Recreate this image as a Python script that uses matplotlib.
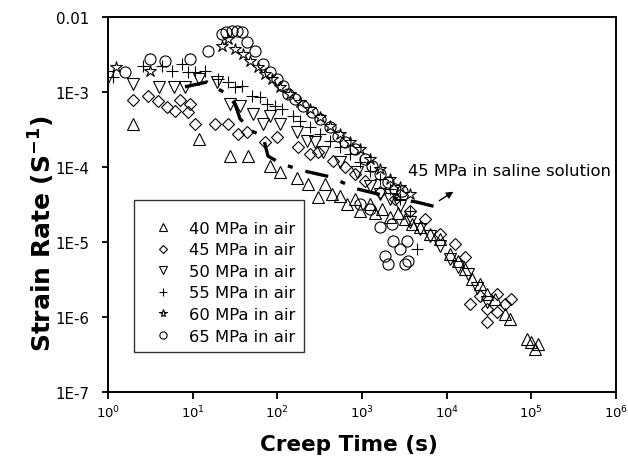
import math
import matplotlib
matplotlib.use("Agg")
import matplotlib.pyplot as plt
from matplotlib.ticker import FixedLocator, FuncFormatter, NullLocator

plt.rcParams['font.family'] = ['DejaVu Sans']
plt.rcParams['mathtext.default'] = 'regular'

# 40 MPa in air
t40 = [1.97, 11.9, 27.5, 44.8, 81.5, 107, 170, 230, 300, 365, 440, 550, 660, 820, 940,
       1240, 1420, 1720, 2140, 2660, 3220, 3890, 4830, 6340, 8300, 10900, 13600, 16500,
       19900, 24600, 29800, 36700, 48300, 55400, 88500, 99000, 110000, 120000]
r40 = [3.7e-4, 2.36e-4, 1.4e-4, 1.4e-4, 1.03e-4, 8.6e-5, 7.1e-5, 5.9e-5, 4.0e-5, 5.9e-5,
       4.4e-5, 4.1e-5, 3.2e-5, 3.7e-5, 2.6e-5, 3.2e-5, 2.4e-5, 2.75e-5, 2.15e-5, 2.4e-5,
       2.0e-5, 1.74e-5, 1.58e-5, 1.28e-5, 1.1e-5, 6.9e-6, 5.6e-6, 4.4e-6, 3.2e-6, 2.75e-6,
       2.0e-6, 1.74e-6, 1.1e-6, 9.4e-7, 5.1e-7, 4.6e-7, 3.7e-7, 4.4e-7]

# 45 MPa in air
t45 = [1.97, 2.96, 3.9, 4.97, 6.2, 7.1, 9.3, 8.8, 10.6, 18.3, 26, 34, 43.6, 71, 99, 175,
       243, 300, 450, 630, 820, 1080, 1630, 2450, 3660, 5600, 8300, 12500, 16500, 18800,
       24600, 29800, 39000, 39000, 29800, 48300, 58000]
r45 = [7.8e-4, 8.85e-4, 7.6e-4, 6.3e-4, 5.6e-4, 7.8e-4, 6.9e-4, 5.4e-4, 3.74e-4, 3.74e-4,
       3.74e-4, 2.75e-4, 2.93e-4, 2.15e-4, 2.5e-4, 1.85e-4, 1.49e-4, 1.58e-4, 1.2e-4, 1.0e-4,
       8.1e-5, 6.5e-5, 4.6e-5, 3.7e-5, 2.6e-5, 2.0e-5, 1.28e-5, 9.4e-6, 6.3e-6, 1.49e-6,
       1.9e-6, 1.28e-6, 2.0e-6, 1.17e-6, 8.6e-7, 1.49e-6, 1.74e-6]

# 50 MPa in air
t50 = [1.0, 1.97, 4.0, 6.0, 8.1, 11.9, 19.4, 27.5, 36, 51.5, 67.6, 81.5, 107, 170, 224,
       278, 345, 550, 870, 1240, 1630, 2140, 2800, 3660, 4830, 6340, 8300, 10900, 13600,
       17800, 22600, 29800]
r50 = [1.58e-3, 1.28e-3, 1.17e-3, 1.17e-3, 1.17e-3, 1.49e-3, 1.36e-3, 6.9e-4, 6.5e-4,
       5.1e-4, 3.74e-4, 4.8e-4, 3.74e-4, 2.93e-4, 2.22e-4, 2.15e-4, 1.58e-4, 1.17e-4,
       8.6e-5, 5.6e-5, 4.4e-5, 3.7e-5, 3.0e-5, 1.85e-5, 1.49e-5, 1.2e-5, 8.9e-6, 5.9e-6,
       4.6e-6, 3.7e-6, 2.4e-6, 1.58e-6]

# 55 MPa in air
t55 = [1.15, 2.6, 4.3, 5.7, 7.5, 8.8, 10.6, 14, 19.9, 26, 31.6, 38, 50, 62, 75, 93, 113,
       153, 184, 243, 318, 415, 550, 720, 940, 1240, 1630, 2140, 2800, 3660, 4450]
r55 = [1.58e-3, 2.22e-3, 2.22e-3, 1.9e-3, 2.36e-3, 1.85e-3, 1.85e-3, 1.9e-3, 1.49e-3,
       1.36e-3, 1.17e-3, 1.2e-3, 8.85e-4, 8.6e-4, 6.9e-4, 6.5e-4, 5.9e-4, 4.8e-4, 4.1e-4,
       3.4e-4, 2.75e-4, 2.22e-4, 1.85e-4, 1.49e-4, 1.17e-4, 8.85e-5, 6.9e-5, 5.1e-5,
       3.7e-5, 2.6e-5, 8.1e-6]

# 60 MPa in air
t60 = [1.24, 3.13, 22, 26, 31.6, 39, 47.5, 59, 71, 86, 107, 140, 184, 243, 318, 415, 550,
       720, 940, 1240, 1630, 2140, 2800, 3660]
r60 = [2.15e-3, 1.9e-3, 4.1e-3, 5.1e-3, 3.7e-3, 3.2e-3, 2.6e-3, 2.15e-3, 1.74e-3, 1.49e-3,
       1.17e-3, 9.4e-4, 7.4e-4, 5.9e-4, 4.6e-4, 3.5e-4, 2.75e-4, 2.15e-4, 1.74e-4, 1.28e-4,
       9.4e-5, 6.9e-5, 5.4e-5, 4.4e-5]

# 65 MPa in air
t65 = [1.59, 3.13, 4.7, 9.3, 15, 22, 25, 29, 33, 38, 44, 54, 68, 81.5, 99, 116, 133, 161,
       200, 255, 318, 415, 520, 630, 820, 1080, 1300, 1630, 2000, 2450, 2950, 1630, 2260,
       2340, 3380, 2800, 1870, 2000, 3220, 3450, 1240, 940]
r65 = [1.85e-3, 2.75e-3, 2.6e-3, 2.75e-3, 3.5e-3, 5.9e-3, 6.3e-3, 6.5e-3, 6.5e-3, 6.3e-3,
       4.6e-3, 3.5e-3, 2.36e-3, 1.85e-3, 1.49e-3, 1.2e-3, 9.4e-4, 8.1e-4, 6.5e-4, 5.4e-4,
       4.4e-4, 3.4e-4, 2.6e-4, 2.15e-4, 1.74e-4, 1.28e-4, 1.03e-4, 8.1e-5, 6.3e-5, 5.1e-5,
       4.8e-5, 1.58e-5, 1.74e-5, 1.03e-5, 1.03e-5, 8.1e-6, 6.5e-6, 5.1e-6, 5.1e-6, 5.6e-6,
       2.75e-5, 3.2e-5]

# 45 MPa in saline solution (dash-dot curve)
t_saline = [8.1, 14.8, 17.4, 25.4, 31.6, 36.2, 50, 67.6, 77.4, 107, 185, 418, 871, 2800,
            4450, 7870]
r_saline = [1.17e-3, 1.36e-3, 1.2e-3, 9.4e-4, 6.9e-4, 4.4e-4, 3.0e-4, 2.6e-4, 1.4e-4,
            1.13e-4, 9.1e-5, 7.4e-5, 5.1e-5, 3.7e-5, 3.4e-5, 2.9e-5]

series = [
    (t40, r40, '^', '40 MPa in air'),
    (t45, r45, 'D', '45 MPa in air'),
    (t50, r50, 'v', '50 MPa in air'),
    (t55, r55, '+', '55 MPa in air'),
    (t60, r60, '*', '60 MPa in air'),
    (t65, r65, 'o', '65 MPa in air'),
]

fig = plt.figure(figsize=(6.28, 4.60), dpi=100)
ax = fig.add_axes([0.172, 0.1457, 0.809, 0.8152])

for t, r, m, lab in series:
    ms = 8
    if m == 'D':
        ms = 6.5
    elif m == '*':
        ms = 9
    ax.plot(t, r, linestyle='none', marker=m, markersize=ms, markerfacecolor='none',
            markeredgecolor='black', markeredgewidth=0.8, color='black', label=lab)

ax.plot(t_saline, r_saline, color='black', linewidth=2.4,
        linestyle=(0, (7, 4, 1.5, 4)), solid_capstyle='butt')

ax.set_xscale('log')
ax.set_yscale('log')
ax.set_xlim(1, 1e6)
ax.set_ylim(1e-7, 1e-2)

ax.xaxis.set_major_locator(FixedLocator([10.0 ** k for k in range(0, 7)]))
ax.xaxis.set_minor_locator(NullLocator())
ax.yaxis.set_major_locator(FixedLocator([10.0 ** k for k in range(-7, -1)]))
ax.yaxis.set_minor_locator(NullLocator())


def xfmt(v, pos):
    return r'$10^{%d}$' % round(math.log10(v))


def yfmt(v, pos):
    e = round(math.log10(v))
    if e == -2:
        return '0.01'
    return '1E%d' % e


ax.xaxis.set_major_formatter(FuncFormatter(xfmt))
ax.yaxis.set_major_formatter(FuncFormatter(yfmt))
ax.tick_params(axis='x', direction='out', length=5, width=1.3, pad=3.5, labelsize=9.5)
ax.tick_params(axis='y', direction='out', length=4, width=1.3, pad=9.5, labelsize=10.8)
for s in ax.spines.values():
    s.set_linewidth(1.4)

ax.set_xlabel('Creep Time (s)', fontsize=15.5, fontweight='bold')
ax.set_ylabel('Strain Rate (S$^{-1}$)', fontsize=18, fontweight='bold')
ax.xaxis.set_label_coords(0.474, -0.112)
ax.yaxis.set_label_coords(-0.1, 0.425)

ax.annotate('', xy=(12800, 4.9e-5), xytext=(7660, 3.4e-5),
            arrowprops=dict(arrowstyle='-|>', color='black', lw=1, mutation_scale=10))
ax.text(3480, 9.1e-5, '45 MPa in saline solution', fontsize=11.8, ha='left', va='center')

leg = ax.legend(loc='upper left', bbox_to_anchor=(0.0512, 0.512), fontsize=11.8,
                title=' ', title_fontsize=5,
                markerscale=0.65, frameon=True, fancybox=False, edgecolor='black',
                borderpad=0.5, labelspacing=0.4, handlelength=2.55, handletextpad=0.31,
                borderaxespad=0)
leg.get_frame().set_linewidth(1.0)

fig.savefig('out.png', dpi=100)
